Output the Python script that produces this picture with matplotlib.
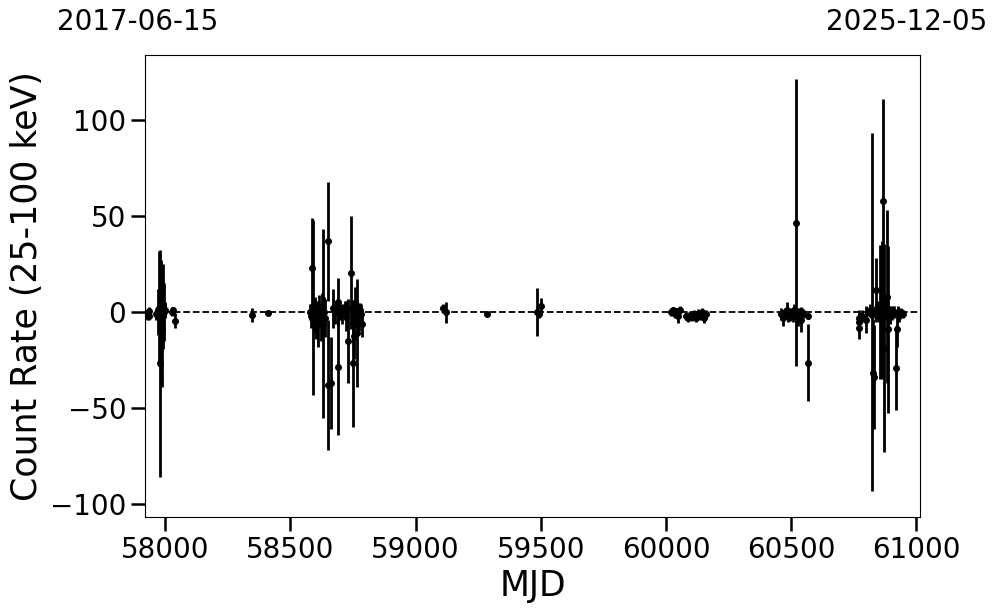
import matplotlib
matplotlib.use("Agg")
import matplotlib.pyplot as plt
import numpy as np

# ---- data (MJD, count rate, 1-sigma error) ----
mjd_c1 = [57927, 57933, 57935, 57963, 57971, 57975, 57979, 57981, 57983, 57987, 57991, 57995, 57992, 57999, 58027, 58031, 58039]
rate_c1 = [-1.5, 0.5, -2.0, -1.0, 0.0, 2.0, -26.5, -4.0, 1.0, -9.0, 3.0, 0.0, 4.0, 1.0, 0.3, 1.0, -4.4]
err_c1 = [2.5, 2.0, 2.0, 3.0, 12.0, 30.0, 59.0, 30.0, 26.0, 30.0, 22.0, 15.0, 3.0, 4.0, 2.5, 1.5, 3.8]

mjd_c2 = [58345, 58409]
rate_c2 = [-1.4, -0.5]
err_c2 = [3.5, 1.0]

mjd_c3 = [58578, 58582, 58584, 58591, 58594, 58598, 58602, 58606, 58610, 58614, 58618, 58622, 58626, 58630, 58634, 58638,
          58650, 58648, 58662, 58670, 58678, 58690, 58691, 58692, 58698, 58706, 58714,
          58718, 58722, 58726, 58730, 58743, 58748, 58750, 58754, 58758, 58762, 58764, 58768, 58772, 58776, 58780, 58784]
rate_c3 = [0.0, -2.0, 23.0, 2.5, -3.0, 2.0, -4.0, 0.0, -6.0, 1.0, -2.0, -5.0, 3.0, -6.0, 0.0, -3.0,
           36.8, -37.8, -37.0, 2.0, 0.0, -28.5, 5.5, 2.0, 0.0, -1.0, 1.0,
           1.0, -2.0, 2.0, -15.0, 20.5, -26.5, -5.5, -12.5, 5.0, -2.0, -11.0, 0.0, -3.0, 1.0, -1.0, -6.0]
err_c3 = [4.0, 6.0, 26.0, 45.5, 8.0, 6.0, 10.0, 5.0, 12.0, 8.0, 6.0, 10.0, 7.0, 49.0, 8.0, 10.0,
          31.0, 33.7, 24.0, 10.0, 6.0, 35.5, 12.5, 4.0, 4.0, 5.0, 3.0,
          5.0, 8.0, 4.0, 22.0, 29.5, 33.0, 10.0, 12.0, 8.0, 6.0, 28.0, 5.0, 7.0, 4.0, 5.0, 7.0]

mjd_c4 = [59109, 59120, 59283, 59483, 59491, 59499]
rate_c4 = [2.0, 0.0, -1.0, 0.0, -1.0, 3.3]
err_c4 = [2.5, 5.5, 1.0, 12.5, 2.0, 4.2]

mjd_c5 = [60019, 60027, 60035, 60043, 60047, 60055, 60079, 60087, 60095, 60103, 60111, 60119, 60127, 60135, 60143, 60151, 60159]
rate_c5 = [0.0, 1.0, -1.0, 0.5, -2.0, 1.0, -2.0, -3.0, -1.5, -2.5, -1.0, -3.0, -1.0, -2.0, 0.0, -3.0, -1.0]
err_c5 = [2.0, 1.5, 2.0, 1.5, 3.5, 2.0, 2.0, 2.0, 2.0, 2.0, 2.0, 2.0, 2.5, 2.0, 2.0, 2.5, 2.0]

mjd_c6 = [60458, 60466, 60474, 60481, 60486, 60490, 60494, 60502, 60506, 60510, 60518, 60522, 60526, 60530, 60534, 60538, 60542, 60546, 60566, 60567]
rate_c6 = [-1.0, -3.0, 0.0, 1.0, -2.0, 0.0, -1.5, 0.0, -2.0, 1.0, 46.4, -1.0, -3.0, 0.0, -1.0, -4.0, 0.0, -1.0, -2.0, -26.4]
err_c6 = [3.0, 4.0, 2.0, 4.5, 3.0, 2.0, 3.0, 2.0, 3.0, 3.0, 74.6, 3.0, 4.0, 2.0, 3.0, 6.5, 2.0, 2.0, 1.5, 20.0]

mjd_c7 = [60769, 60771, 60770, 60781, 60797, 60805, 60813, 60817, 60824, 60825, 60829, 60833, 60837, 60841, 60845, 60849,
          60853, 60857, 60861, 60866, 60870, 60874, 60878, 60882, 60886, 60890, 60894, 60898, 60902, 60906,
          60910, 60920, 60922, 60926, 60930, 60934, 60938, 60945, 60863]
rate_c7 = [-3.0, -5.0, -8.0, -2.0, -4.0, 0.0, 1.0, -1.0, 0.0, -31.7, -33.5, 0.0, 11.6, -1.0, 2.0, -2.0,
           0.0, -1.0, 1.0, 57.6, -18.6, 2.0, -1.0, 8.1, -9.0, 0.0, -2.0, 1.0, -1.0, 0.0,
           0.0, -29.0, -9.0, 0.0, -2.0, -1.0, 0.0, -1.0, 1.0]
err_c7 = [4.0, 4.0, 6.0, 3.0, 7.0, 2.0, 3.0, 2.0, 93.0, 28.0, 27.0, 3.0, 16.5, 2.0, 4.0, 3.0,
          35.0, 3.0, 3.0, 53.0, 54.0, 5.0, 3.0, 45.0, 43.5, 3.0, 4.0, 2.0, 3.0, 3.0,
          3.0, 22.0, 9.0, 3.0, 3.0, 2.0, 2.0, 2.0, 36.0]

mjd = mjd_c1 + mjd_c2 + mjd_c3 + mjd_c4 + mjd_c5 + mjd_c6 + mjd_c7
rate = rate_c1 + rate_c2 + rate_c3 + rate_c4 + rate_c5 + rate_c6 + rate_c7
err = err_c1 + err_c2 + err_c3 + err_c4 + err_c5 + err_c6 + err_c7

xlim = (57919, 61014)
date_left = "2017-06-15"
date_right = "2025-12-05"
xticks = [58000, 58500, 59000, 59500, 60000, 60500, 61000]
yticks = [-100, -50, 0, 50, 100]

fig = plt.figure(figsize=(9.97, 6.13), dpi=100)
ax = fig.add_axes([145 / 997, 1 - 517 / 613, (920 - 145) / 997, (517 - 55) / 613])

ax.errorbar(mjd, rate, yerr=err, fmt='o', color='black', ms=4, elinewidth=2, capsize=0, zorder=3)
ax.axhline(0, color='black', ls='--', lw=1.3, zorder=2)

ax.set_xlim(*xlim)
ax.set_ylim(-106.5, 133.7)
ax.set_xticks(xticks)
ax.set_yticks(yticks)
ax.tick_params(axis='both', which='major', labelsize=20, length=10, width=1.8)
ax.set_xlabel("MJD", fontsize=25)
ax.set_ylabel("Count Rate (25-100 keV)", fontsize=25)

fig.text(57 / 997, 1 - 22 / 613, date_left, ha='left', va='center', fontsize=20)
fig.text(987 / 997, 1 - 22 / 613, date_right, ha='right', va='center', fontsize=20)

fig.savefig("out.png", dpi=100)
